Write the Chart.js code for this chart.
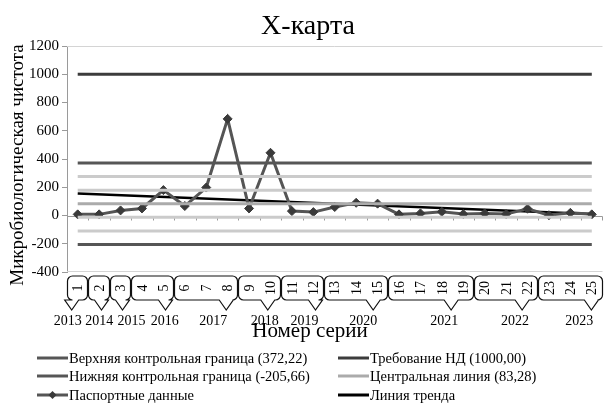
<!DOCTYPE html>
<html lang="ru">
<head>
  <meta charset="UTF-8" />
  <title>X-карта</title>
  <style>
    * { margin: 0; padding: 0; box-sizing: border-box; }
    body { background: white; width: 608px; height: 403px; overflow: hidden; }
    canvas { display: block; }
  </style>
</head>
<body>
  <canvas id="chartCanvas" width="608" height="403"></canvas>

  <script src="https://cdn.jsdelivr.net/npm/chart.js"></script>
  <script>
    // Series numbers (inner category level) and years (outer level)
    const seriesNumbers = ['1', '2', '3', '4', '5', '6', '7', '8', '9', '10', '11', '12', '13',
      '14', '15', '16', '17', '18', '19', '20', '21', '22', '23', '24', '25'];
    const yearLabels = ['2013', '2014', '2015', '2016', '2017', '2018', '2019', '2020', '2021', '2022', '2023'];
    const yearGroupSizes = [1, 1, 1, 2, 3, 2, 2, 3, 4, 3, 3];

    // Passport data
    const passportData = [8, 8, 36, 50, 180, 67, 198, 684, 50, 444, 31, 24, 60,
      90, 84, 8, 15, 26, 10, 15, 10, 48, 2, 19, 8];

    // Limits from the legend
    const requirement = [1000.00];
    const upperLimit = [372.22];
    const centralLine = [83.28];
    const lowerLimit = [-205.66];
    // unlabelled sigma zones (1 and 2 sigma around the centre line)
    const sigmaLevels = [275.87, 179.59, -13.03, -109.34];
    // trend line, first and last series
    const trendEnds = [155, 10];

    const yTicks = [-400, -200, 0, 200, 400, 600, 800, 1000, 1200];

    // hand-drawn callouts: shift of the tail and of the year text from the group centre (px)
    const tailShift = [-6, 3, 9, 18, 20, 8, 17, 17, 20, 16, 21];
    const yearShift = [-10, 0, 11, 12, 7, 5, 2, 7, 13, 9, 9];

    const SERIF = '"Liberation Serif", "Times New Roman", serif';
    const n = seriesNumbers.length;
    const flat = v => seriesNumbers.map(() => v);

    function hLine(label, value, color, width) {
      return {
        label: label, data: flat(value), borderColor: color, borderWidth: width,
        pointRadius: 0, fill: false, tension: 0
      };
    }

    const datasets = [
      hLine('Требование НД (1000,00)', requirement[0], '#3c3c3c', 3),
      hLine('Верхняя контрольная граница (372,22)', upperLimit[0], '#565656', 3),
      hLine('s2u', sigmaLevels[0], '#cbcbcb', 3),
      hLine('s1u', sigmaLevels[1], '#cbcbcb', 3),
      hLine('Центральная линия (83,28)', centralLine[0], '#ababab', 3),
      hLine('s1l', sigmaLevels[2], '#cbcbcb', 3),
      hLine('s2l', sigmaLevels[3], '#cbcbcb', 3),
      hLine('Нижняя контрольная граница (-205,66)', lowerLimit[0], '#565656', 3),
      {
        label: 'Паспортные данные', data: passportData,
        borderColor: '#555', borderWidth: 3, tension: 0,
        pointStyle: 'rectRot', pointRadius: 4.5,
        pointBackgroundColor: '#3a3a3a', pointBorderColor: '#3a3a3a', pointBorderWidth: 1
      },
      {
        label: 'Линия тренда',
        data: seriesNumbers.map((_, i) => i === 0 ? trendEnds[0] : (i === n - 1 ? trendEnds[1] : null)),
        spanGaps: true, borderColor: '#000', borderWidth: 2.5, pointRadius: 0, tension: 0
      }
    ];

    const legendItems = [
      { text: 'Верхняя контрольная граница (372,22)', color: '#565656', col: 0, row: 0 },
      { text: 'Требование НД (1000,00)', color: '#3c3c3c', col: 1, row: 0 },
      { text: 'Нижняя контрольная граница (-205,66)', color: '#565656', col: 0, row: 1 },
      { text: 'Центральная линия (83,28)', color: '#ababab', col: 1, row: 1 },
      { text: 'Паспортные данные', color: '#555', col: 0, row: 2, marker: true },
      { text: 'Линия тренда', color: '#000', col: 1, row: 2 }
    ];

    // Everything around the plot: frame, zero axis, grouped category labels, titles, legend
    const decor = {
      id: 'decor',
      beforeDatasetsDraw(chart) {
        const c = chart.ctx, a = chart.chartArea;
        const x = chart.scales.x, y = chart.scales.y;
        c.save();
        c.strokeStyle = '#d4d4d4';
        c.lineWidth = 1;
        c.beginPath();
        c.moveTo(a.left, a.top + 0.5); c.lineTo(a.right, a.top + 0.5);
        c.moveTo(a.left, a.bottom - 0.5); c.lineTo(a.right, a.bottom - 0.5);
        c.stroke();
        // category axis crosses at zero
        const y0 = Math.round(y.getPixelForValue(0)) + 0.5;
        const step = x.getPixelForValue(1) - x.getPixelForValue(0);
        c.strokeStyle = '#9a9a9a';
        c.beginPath();
        c.moveTo(a.left, y0); c.lineTo(a.right, y0);
        for (let i = 0; i <= n; i++) {
          const px = Math.round(x.getPixelForValue(0) - step / 2 + i * step) + 0.5;
          c.moveTo(px, y0); c.lineTo(px, y0 + 4);
        }
        c.stroke();
        c.restore();
      },
      afterDraw(chart) {
        const c = chart.ctx;
        const x = chart.scales.x;
        const step = x.getPixelForValue(1) - x.getPixelForValue(0);
        c.save();

        // title
        c.fillStyle = '#000';
        c.textAlign = 'center';
        c.textBaseline = 'middle';
        c.font = '28px ' + SERIF;
        c.fillText('X-карта', 308, 27);

        // y axis title
        c.save();
        c.translate(18, 165);
        c.rotate(-Math.PI / 2);
        c.font = '19px ' + SERIF;
        c.fillText('Микробиологическая чистота', 0, 0);
        c.restore();

        // grouped labels
        const top = 276, bot = 300, r = 5;
        let start = 0;
        yearGroupSizes.forEach((size, g) => {
          const end = start + size - 1;
          const left = Math.round(x.getPixelForValue(start) - step / 2) + 0.5;
          const right = Math.round(x.getPixelForValue(end) + step / 2) - 0.5;
          const centre = (x.getPixelForValue(start) + x.getPixelForValue(end)) / 2;
          const tail = Math.min(centre + tailShift[g], right - 8);
          c.beginPath();
          c.moveTo(left + r, top);
          c.lineTo(right - r, top);
          c.arcTo(right, top, right, top + r, r);
          c.lineTo(right, bot - r);
          c.arcTo(right, bot, right - r, bot, r);
          c.lineTo(tail + 7, bot);
          c.lineTo(tail, bot + 10);
          c.lineTo(tail - 7, bot);
          c.lineTo(left + r, bot);
          c.arcTo(left, bot, left, bot - r, r);
          c.lineTo(left, top + r);
          c.arcTo(left, top, left + r, top, r);
          c.closePath();
          c.fillStyle = '#fff';
          c.fill();
          c.strokeStyle = '#111';
          c.lineWidth = 1.2;
          c.stroke();

          c.fillStyle = '#000';
          c.font = '14px ' + SERIF;
          for (let i = start; i <= end; i++) {
            c.save();
            c.translate(x.getPixelForValue(i), (top + bot) / 2);
            c.rotate(-Math.PI / 2);
            c.fillText(seriesNumbers[i], 0, 1);
            c.restore();
          }
          c.font = '14px ' + SERIF;
          const half = c.measureText(yearLabels[g]).width / 2;
          const lx = Math.max(half + 1, Math.min(centre + yearShift[g], 607 - half));
          c.fillText(yearLabels[g], lx, 321);
          start = end + 1;
        });

        // x axis title
        c.font = '21px ' + SERIF;
        c.fillText('Номер серии', 310, 331);

        // legend
        c.font = '14.5px ' + SERIF;
        c.textAlign = 'left';
        const colX = [37, 338], rowY = [358, 376, 395];
        legendItems.forEach(it => {
          const lx = colX[it.col], ly = rowY[it.row];
          c.strokeStyle = it.color;
          c.lineWidth = 3;
          c.beginPath();
          c.moveTo(lx, ly); c.lineTo(lx + 31, ly);
          c.stroke();
          if (it.marker) {
            c.fillStyle = '#3a3a3a';
            c.beginPath();
            c.moveTo(lx + 15.5, ly - 4); c.lineTo(lx + 19.5, ly);
            c.lineTo(lx + 15.5, ly + 4); c.lineTo(lx + 11.5, ly);
            c.closePath(); c.fill();
          }
          c.fillStyle = '#000';
          c.fillText(it.text, lx + 32, ly + 1);
        });
        c.restore();
      }
    };

    const ctx = document.getElementById('chartCanvas').getContext('2d');
    const chart = new Chart(ctx, {
      type: 'line',
      data: { labels: seriesNumbers, datasets: datasets },
      options: {
        responsive: false,
        animation: false,
        layout: { padding: { top: 46, bottom: 131, left: 0, right: 0 } },
        plugins: {
          legend: { display: false },
          title: { display: false },
          tooltip: { enabled: false }
        },
        scales: {
          x: { display: false, offset: true },
          y: {
            min: yTicks[0],
            max: yTicks[yTicks.length - 1],
            afterBuildTicks: s => { s.ticks = yTicks.map(v => ({ value: v })); },
            afterFit: s => { s.width = 67; },
            grid: { drawOnChartArea: false, tickLength: 5, color: '#9a9a9a' },
            border: { color: '#9a9a9a' },
            ticks: {
              color: '#000', padding: 3,
              font: { family: SERIF, size: 15 },
              callback: v => String(v)
            }
          }
        }
      },
      plugins: [decor]
    });
  </script>
</body>
</html>
